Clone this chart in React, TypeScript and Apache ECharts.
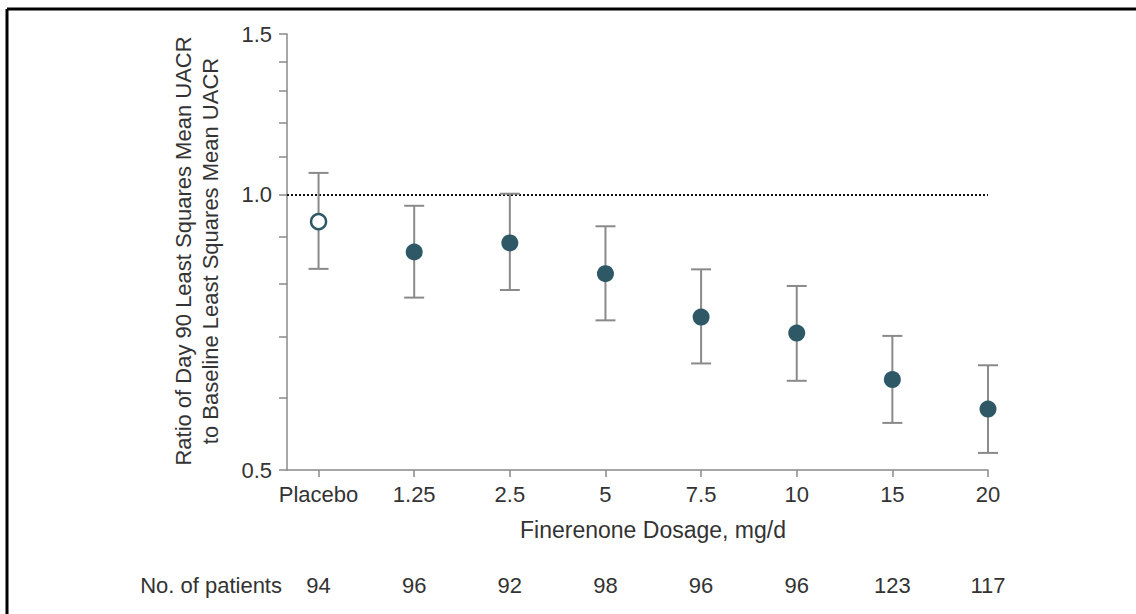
import React, { useEffect, useRef } from "react";
import * as echarts from "echarts";

const categories = ["Placebo", "1.25", "2.5", "5", "7.5", "10", "15", "20"];
const ratio = [0.935, 0.866, 0.886, 0.82, 0.735, 0.706, 0.628, 0.583];
const lower = [0.83, 0.772, 0.787, 0.729, 0.654, 0.626, 0.563, 0.522];
const upper = [1.057, 0.973, 1.003, 0.924, 0.829, 0.795, 0.701, 0.651];
const patients = ["94", "96", "92", "98", "96", "96", "123", "117"];
const yTicks = [0.5, 0.6, 0.7, 0.8, 0.9, 1.0, 1.1, 1.2, 1.3, 1.4, 1.5];
const yTickLabels = [0.5, 1.0, 1.5];
const referenceValue = 1.0;

const FONT = "'Liberation Sans', Arial, sans-serif";
const TEXT = "#333333";
const AXIS = "#8a8a8a";
const MARK = "#2e5866";
const X_MIN = -0.33;
const X_MAX = categories.length - 1;

export default function App() {
  const ref = useRef<HTMLDivElement>(null);

  useEffect(() => {
    if (!ref.current) return;
    const chart = echarts.init(ref.current, undefined, { renderer: "svg" });
    const idx = categories.map((_, i) => i);

    const option: any = {
      animation: false,
      backgroundColor: "#ffffff",
      textStyle: { fontFamily: FONT },
      grid: { left: 287, right: 148, top: 34, bottom: 144 },
      xAxis: [
        {
          type: "value",
          min: X_MIN,
          max: X_MAX,
          splitLine: { show: false },
          axisLine: { show: true, onZero: false, lineStyle: { color: AXIS, width: 1.5 } },
          axisTick: {
            show: true,
            length: 7,
            customValues: idx,
            lineStyle: { color: AXIS, width: 1.5 },
          },
          axisLabel: {
            customValues: idx,
            margin: 13,
            fontSize: 22,
            color: TEXT,
            fontFamily: FONT,
            formatter: (v: number) => categories[Math.round(v)] ?? "",
          },
        },
        {
          type: "value",
          position: "bottom",
          offset: 96,
          min: X_MIN,
          max: X_MAX,
          splitLine: { show: false },
          axisLine: { show: false, onZero: false },
          axisTick: { show: false },
          axisLabel: {
            customValues: idx,
            margin: 8,
            fontSize: 22,
            color: TEXT,
            fontFamily: FONT,
            formatter: (v: number) => patients[Math.round(v)] ?? "",
          },
        },
      ],
      yAxis: {
        type: "value",
        min: Math.log(0.5),
        max: Math.log(1.5),
        splitLine: { show: false },
        axisLine: { show: true, onZero: false, lineStyle: { color: AXIS, width: 1.5 } },
        axisTick: {
          show: true,
          length: 8,
          customValues: yTicks.map((t) => Math.log(t)),
          lineStyle: { color: AXIS, width: 1.5 },
        },
        axisLabel: {
          customValues: yTickLabels.map((t) => Math.log(t)),
          margin: 15,
          fontSize: 22,
          color: TEXT,
          fontFamily: FONT,
          formatter: (v: number) => Math.exp(v).toFixed(1),
        },
      },
      graphic: [
        {
          type: "line",
          shape: { x1: 7, y1: 9, x2: 1136, y2: 9 },
          style: { stroke: "#000", lineWidth: 3 },
        },
        {
          type: "line",
          shape: { x1: 7, y1: 9, x2: 7, y2: 614 },
          style: { stroke: "#000", lineWidth: 3 },
        },
        {
          type: "text",
          x: 197,
          y: 251,
          rotation: Math.PI / 2,
          style: {
            text: "Ratio of Day 90 Least Squares Mean UACR\nto Baseline Least Squares Mean UACR",
            fontSize: 22,
            fontFamily: FONT,
            fill: TEXT,
            align: "center",
            verticalAlign: "middle",
            lineHeight: 27,
          },
        },
        {
          type: "text",
          x: 653,
          y: 530,
          style: {
            text: "Finerenone Dosage, mg/d",
            fontSize: 23,
            fontFamily: FONT,
            fill: TEXT,
            align: "center",
            verticalAlign: "middle",
          },
        },
        {
          type: "text",
          x: 282,
          y: 585,
          style: {
            text: "No. of patients",
            fontSize: 22,
            fontFamily: FONT,
            fill: TEXT,
            align: "right",
            verticalAlign: "middle",
          },
        },
      ],
      series: [
        {
          type: "line",
          xAxisIndex: 0,
          data: [
            [X_MIN, Math.log(referenceValue)],
            [X_MAX, Math.log(referenceValue)],
          ],
          symbol: "none",
          silent: true,
          lineStyle: { color: "#111", width: 2, type: [2, 2] },
          z: 1,
        },
        {
          type: "custom",
          xAxisIndex: 0,
          data: idx.map((i) => [i, Math.log(lower[i]), Math.log(upper[i])]),
          renderItem: (params: any, api: any) => {
            const x = api.value(0);
            const lo = api.coord([x, api.value(1)]);
            const hi = api.coord([x, api.value(2)]);
            const half = 10;
            const st = { stroke: AXIS, lineWidth: 2 };
            return {
              type: "group",
              children: [
                { type: "line", shape: { x1: lo[0], y1: lo[1], x2: hi[0], y2: hi[1] }, style: st },
                { type: "line", shape: { x1: hi[0] - half, y1: hi[1], x2: hi[0] + half, y2: hi[1] }, style: st },
                { type: "line", shape: { x1: lo[0] - half, y1: lo[1], x2: lo[0] + half, y2: lo[1] }, style: st },
              ],
            };
          },
          z: 2,
        },
        {
          type: "scatter",
          xAxisIndex: 0,
          data: idx.filter((i) => i > 0).map((i) => [i, Math.log(ratio[i])]),
          symbol: "circle",
          symbolSize: 17,
          itemStyle: { color: MARK, opacity: 1 },
          z: 3,
        },
        {
          type: "scatter",
          xAxisIndex: 0,
          data: [[0, Math.log(ratio[0])]],
          symbol: "circle",
          symbolSize: 15,
          itemStyle: { color: "#ffffff", borderColor: MARK, borderWidth: 2.5, opacity: 1 },
          z: 3,
        },
      ],
    };

    chart.setOption(option);
    return () => chart.dispose();
  }, []);

  return (
    <div
      ref={ref}
      style={{ position: "fixed", left: 0, top: 0, width: 1136, height: 614, background: "#fff" }}
    />
  );
}
